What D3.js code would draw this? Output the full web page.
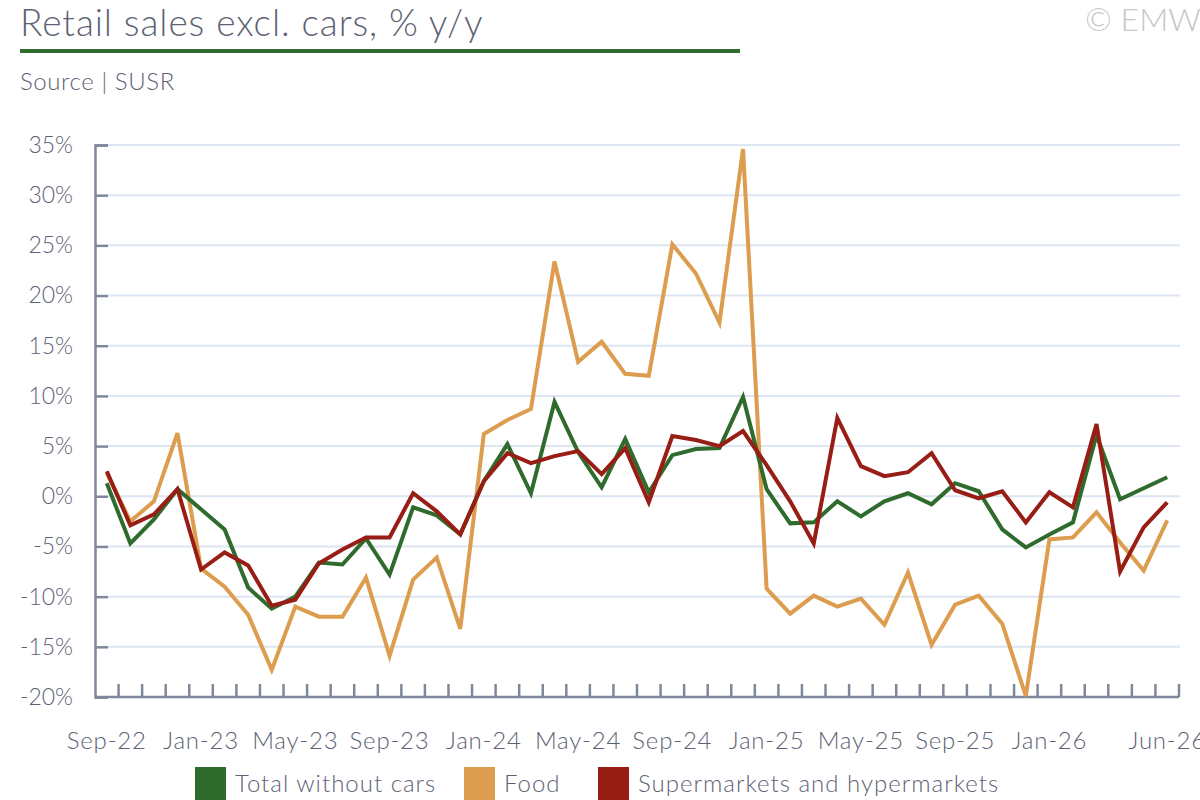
<!DOCTYPE html>
<html>
<head>
<meta charset="utf-8">
<script src="https://cdn.jsdelivr.net/npm/d3@7"></script>
<style>
  body { margin: 0; background: #fff; }
  svg { font-family: Lato, "Open Sans", sans-serif; display: block; }
</style>
</head>
<body>
<div id="chart"></div>
<script>
const months = ["Sep-22","Oct-22","Nov-22","Dec-22","Jan-23","Feb-23","Mar-23","Apr-23","May-23","Jun-23","Jul-23","Aug-23",
  "Sep-23","Oct-23","Nov-23","Dec-23","Jan-24","Feb-24","Mar-24","Apr-24","May-24","Jun-24","Jul-24","Aug-24",
  "Sep-24","Oct-24","Nov-24","Dec-24","Jan-25","Feb-25","Mar-25","Apr-25","May-25","Jun-25","Jul-25","Aug-25",
  "Sep-25","Oct-25","Nov-25","Dec-25","Jan-26","Feb-26","Mar-26","Apr-26","May-26","Jun-26"];

const tickLabels = ["Sep-22","Jan-23","May-23","Sep-23","Jan-24","May-24","Sep-24","Jan-25","May-25","Sep-25","Jan-26","Jun-26"];

const yTicks = [-20,-15,-10,-5,0,5,10,15,20,25,30,35];

const totalWithoutCars = [1.3,-4.7,-2.3,0.7,-1.3,-3.3,-9.1,-11.2,-10.0,-6.6,-6.8,-4.2,
  -7.8,-1.1,-1.9,-3.8,1.5,5.2,0.3,9.4,4.4,0.9,5.7,0.4,
  4.1,4.7,4.8,9.9,0.7,-2.7,-2.6,-0.5,-2.0,-0.5,0.3,-0.8,
  1.3,0.5,-3.3,-5.1,-3.8,-2.6,6.1,-0.3,0.8,1.9];

const food = [2.3,-2.5,-0.5,6.3,-7.2,-9.0,-11.8,-17.3,-11.0,-12.0,-12.0,-8.1,
  -15.9,-8.3,-6.1,-13.2,6.2,7.6,8.7,23.4,13.4,15.4,12.2,12.0,
  25.1,22.2,17.3,34.6,-9.2,-11.7,-9.9,-11.0,-10.2,-12.8,-7.6,-14.8,
  -10.8,-9.9,-12.7,-19.9,-4.3,-4.1,-1.6,-4.6,-7.4,-2.4];

const supermarkets = [2.5,-2.9,-1.8,0.7,-7.3,-5.6,-6.9,-10.9,-10.3,-6.7,-5.3,-4.1,
  -4.1,0.3,-1.5,-3.8,1.5,4.3,3.3,4.0,4.5,2.2,4.8,-0.6,
  6.0,5.6,5.0,6.5,3.1,-0.5,-4.7,7.8,3.0,2.0,2.4,4.3,
  0.6,-0.2,0.5,-2.6,0.4,-1.1,7.2,-7.5,-3.1,-0.6];

const seriesNames = ["Total without cars","Food","Supermarkets and hypermarkets"];
const seriesColors = ["#2e6b2d","#dd9d4f","#981d15"];

const W = 1200, H = 800;
const plot = {left: 95, right: 1179, top: 145, bottom: 697};
const textColor = "#5d6374";
const axisColor = "#7f889a";

const svg = d3.select("#chart").append("svg")
  .attr("width", W).attr("height", H);

// header
svg.append("text")
  .attr("x", 20).attr("y", 36)
  .attr("font-size", 37).attr("font-weight", 300)
  .attr("letter-spacing", 0.9)
  .attr("fill", textColor)
  .text("Retail sales excl. cars, % y/y");

svg.append("rect")
  .attr("x", 20).attr("y", 49).attr("width", 720).attr("height", 4)
  .attr("fill", seriesColors[0]);

svg.append("text")
  .attr("x", 1085).attr("y", 31)
  .attr("font-size", 32).attr("font-weight", 300)
  .attr("fill", "#c3c6cc")
  .text("© EMW");

svg.append("text")
  .attr("x", 20).attr("y", 90)
  .attr("font-size", 24).attr("font-weight", 300)
  .attr("letter-spacing", 0.6)
  .attr("fill", textColor)
  .text("Source | SUSR");

const x = d3.scaleBand()
  .domain(months)
  .range([plot.left, plot.right])
  .padding(0);

const y = d3.scaleLinear()
  .domain([-20, 35])
  .range([plot.bottom, plot.top]);

// gridlines
svg.append("g")
  .selectAll("line")
  .data(yTicks.filter(d => d > -20))
  .join("line")
  .attr("x1", plot.left + 13).attr("x2", plot.right + 1)
  .attr("y1", d => y(d)).attr("y2", d => y(d))
  .attr("stroke", "#dce5f1").attr("stroke-width", 2);

// y axis
const yAxis = svg.append("g")
  .attr("transform", `translate(${plot.left},0)`)
  .call(d3.axisLeft(y).tickValues(yTicks).tickSize(-13).tickPadding(22)
    .tickFormat(d => d + "%"));
yAxis.select(".domain").attr("stroke", axisColor).attr("stroke-width", 2.5);
yAxis.selectAll(".tick line").attr("stroke", axisColor).attr("stroke-width", 2.5);
yAxis.selectAll(".tick text")
  .attr("font-size", 23).attr("font-weight", 300).attr("fill", textColor)
  .attr("font-family", "Lato, sans-serif");

// x axis: labels
const xAxis = svg.append("g")
  .attr("transform", `translate(0,${plot.bottom})`)
  .call(d3.axisBottom(x).tickValues(tickLabels).tickSize(0).tickPadding(35));
xAxis.select(".domain").remove();
xAxis.selectAll(".tick text")
  .attr("font-size", 24).attr("font-weight", 300).attr("fill", textColor)
  .attr("letter-spacing", 0.8)
  .attr("font-family", "Lato, sans-serif");

// x axis: boundary ticks between months
svg.append("g")
  .selectAll("line")
  .data(months)
  .join("line")
  .attr("x1", d => x(d) + x.bandwidth()).attr("x2", d => x(d) + x.bandwidth())
  .attr("y1", plot.bottom - 13).attr("y2", plot.bottom)
  .attr("stroke", axisColor).attr("stroke-width", 2.5);

svg.append("line")
  .attr("x1", plot.left).attr("x2", plot.right)
  .attr("y1", plot.bottom).attr("y2", plot.bottom)
  .attr("stroke", axisColor).attr("stroke-width", 2.5);

// lines
const line = d3.line()
  .x((d, i) => x(months[i]) + x.bandwidth() / 2)
  .y(d => y(d));

const drawOrder = [[food, 1], [totalWithoutCars, 0], [supermarkets, 2]];
svg.append("g")
  .selectAll("path")
  .data(drawOrder)
  .join("path")
  .attr("d", d => line(d[0]))
  .attr("fill", "none")
  .attr("stroke", d => seriesColors[d[1]])
  .attr("stroke-width", 4)
  .attr("stroke-linejoin", "miter");

// legend
const legendX = [195, 464, 598];
const legend = svg.append("g")
  .selectAll("g")
  .data(seriesNames)
  .join("g")
  .attr("transform", (d, i) => `translate(${legendX[i]},767)`);

legend.append("rect")
  .attr("width", 31).attr("height", 34)
  .attr("fill", (d, i) => seriesColors[i]);

legend.append("text")
  .attr("x", 40).attr("y", 25)
  .attr("font-size", 24).attr("font-weight", 300)
  .attr("letter-spacing", 1)
  .attr("fill", textColor)
  .text(d => d);
</script>
</body>
</html>
